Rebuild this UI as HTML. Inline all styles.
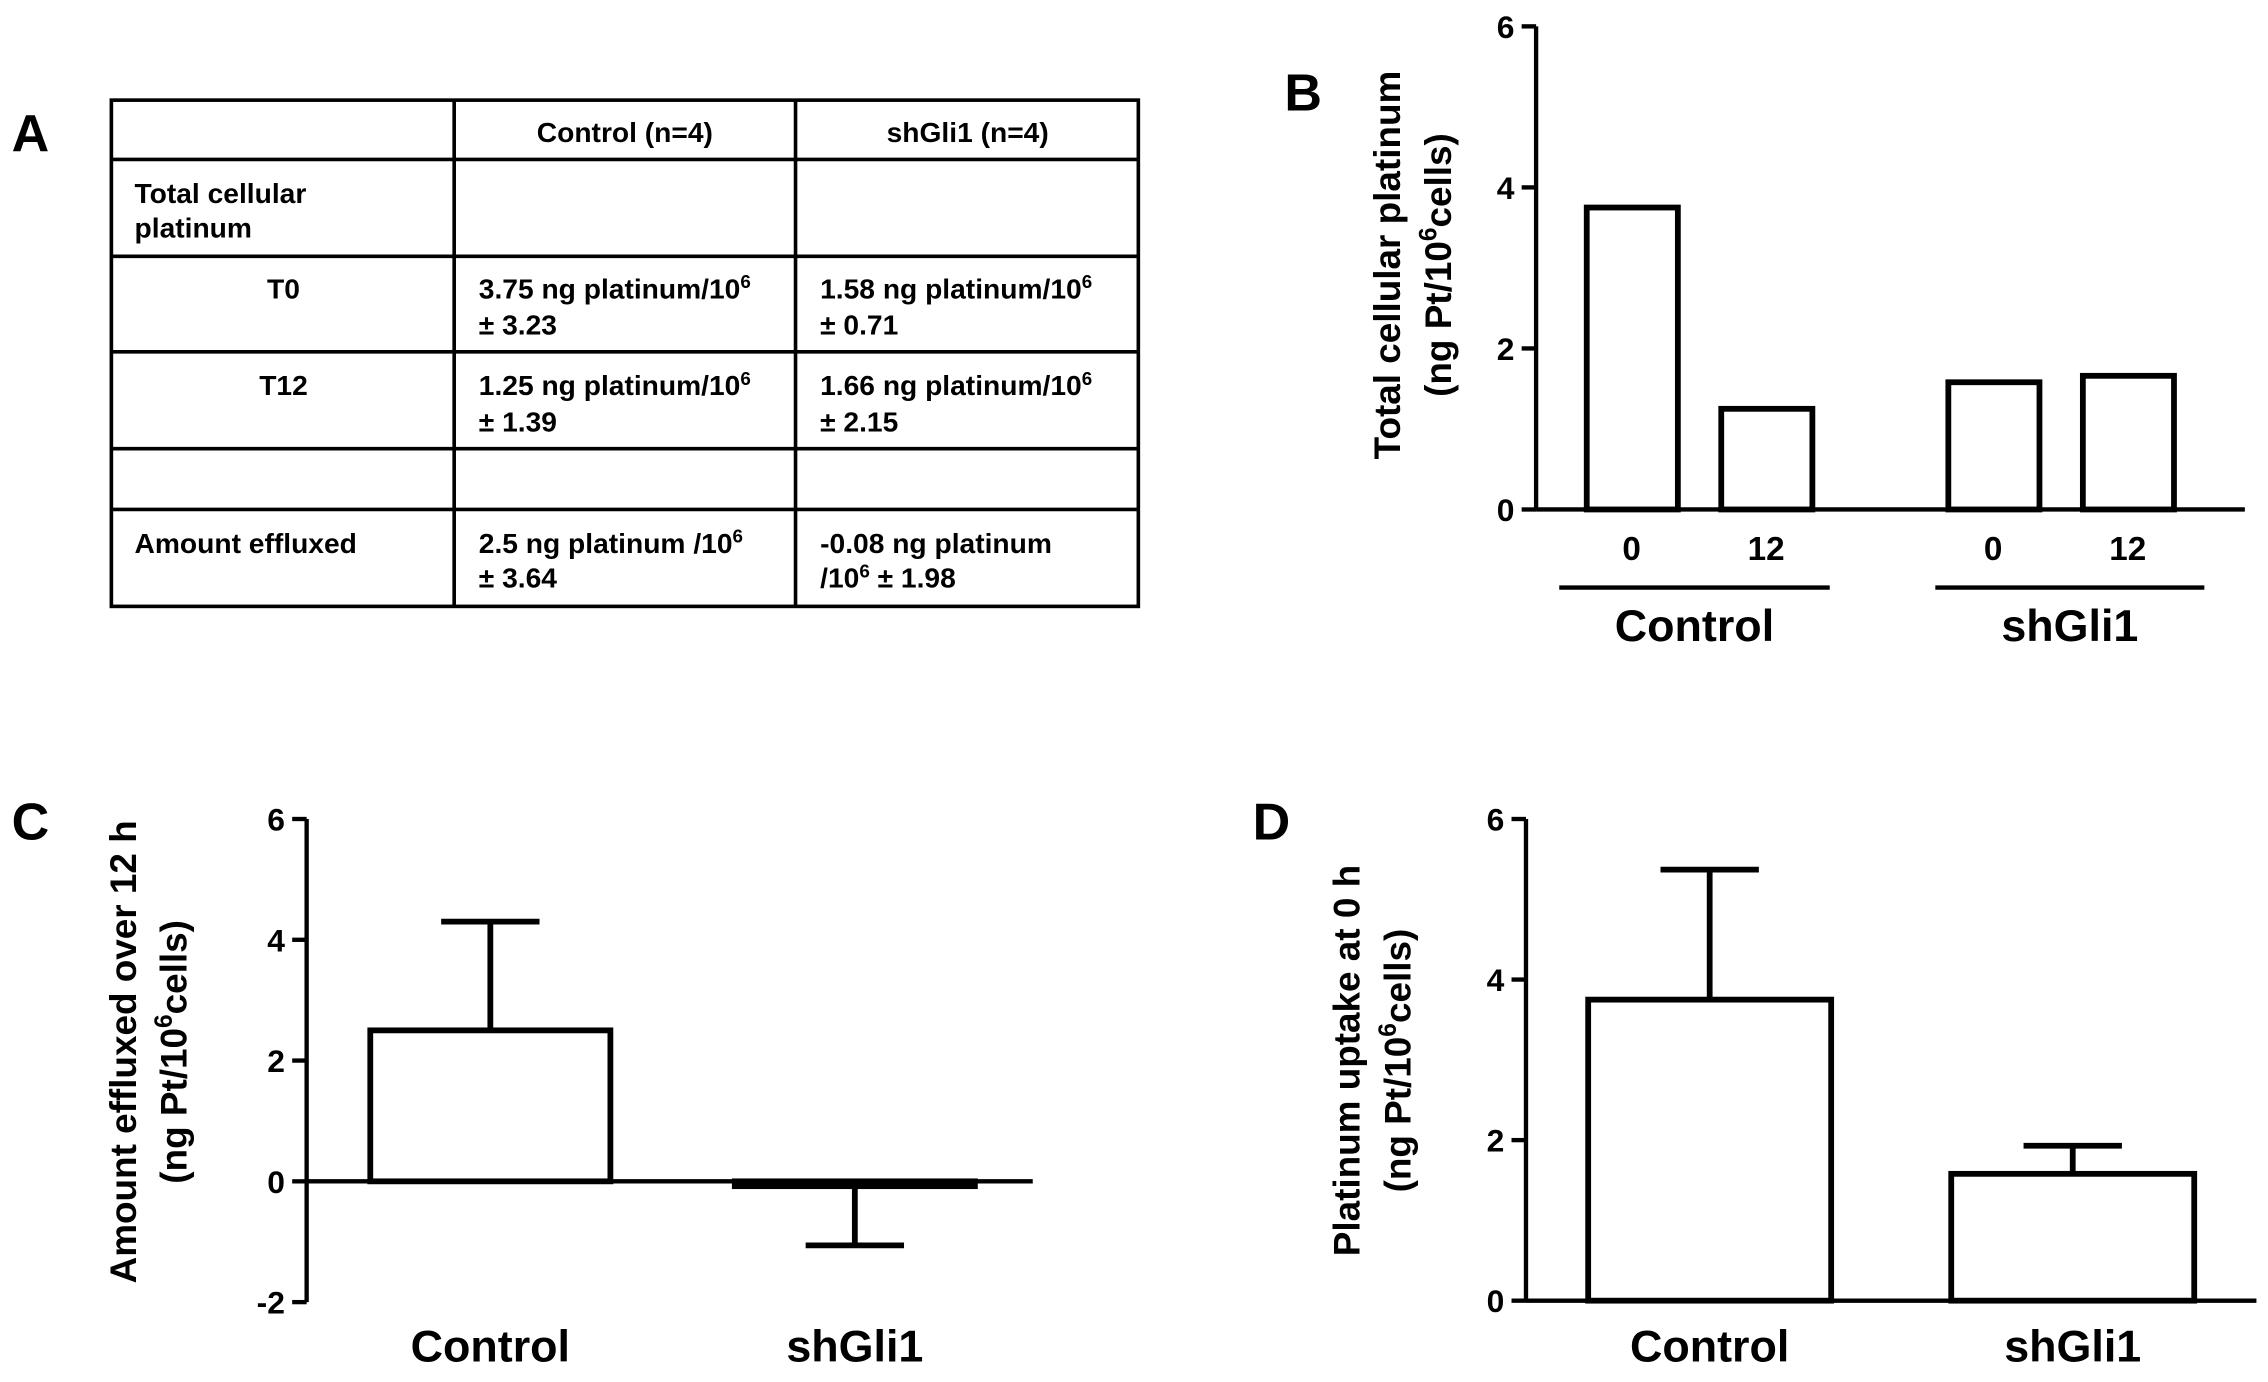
<!DOCTYPE html>
<html><head><meta charset="utf-8"><style>
html,body{margin:0;padding:0;background:#fff}
svg{display:block}
text{font-family:"Liberation Sans",Arial,sans-serif;font-weight:bold;fill:#000}
</style></head><body>
<svg id="fig" width="2268" height="1382" viewBox="0 0 1568 955" xmlns="http://www.w3.org/2000/svg">
<g stroke="#000" stroke-width="2.5" fill="none">
<rect x="77" y="69" width="710" height="350"/>
<line x1="314" y1="69" x2="314" y2="419"/><line x1="550" y1="69" x2="550" y2="419"/>
<line x1="77" y1="110" x2="787" y2="110"/><line x1="77" y1="177" x2="787" y2="177"/>
<line x1="77" y1="243" x2="787" y2="243"/><line x1="77" y1="310" x2="787" y2="310"/>
<line x1="77" y1="352" x2="787" y2="352"/>
</g>
<g font-size="19.5">
<text x="8" y="104" font-size="36">A</text>
<text x="432" y="98" text-anchor="middle">Control (n=4)</text>
<text x="669" y="98" text-anchor="middle">shGli1 (n=4)</text>
<text x="93" y="140">Total cellular</text>
<text x="93" y="164">platinum</text>
<text x="196" y="206" text-anchor="middle">T0</text>
<text x="331" y="206">3.75 ng platinum/10<tspan font-size="13" dy="-7">6</tspan></text>
<text x="331" y="231">± 3.23</text>
<text x="567" y="206">1.58 ng platinum/10<tspan font-size="13" dy="-7">6</tspan></text>
<text x="567" y="231">± 0.71</text>
<text x="196" y="273" text-anchor="middle">T12</text>
<text x="331" y="273">1.25 ng platinum/10<tspan font-size="13" dy="-7">6</tspan></text>
<text x="331" y="298">± 1.39</text>
<text x="567" y="273">1.66 ng platinum/10<tspan font-size="13" dy="-7">6</tspan></text>
<text x="567" y="298">± 2.15</text>
<text x="93" y="382">Amount effluxed</text>
<text x="331" y="382">2.5 ng platinum /10<tspan font-size="13" dy="-7">6</tspan></text>
<text x="331" y="406">± 3.64</text>
<text x="567" y="382">-0.08 ng platinum</text>
<text x="567" y="406">/10<tspan font-size="13" dy="-7">6</tspan><tspan dy="7">  ± 1.98</tspan></text>
</g>
<text x="888" y="76" font-size="36">B</text>
<text x="8" y="580" font-size="36">C</text>
<text x="866" y="580" font-size="36">D</text>
<g id="charts"></g>
</svg>
<script>
const bVals=[3.75,1.25,1.58,1.66];
const bLabels=['0','12','0','12'];
const bGroups=['Control','shGli1'];
const cCats=['Control','shGli1'];
const cVals=[2.5,-0.08];
const cErr=[1.8,0.98];
const dCats=['Control','shGli1'];
const dVals=[3.75,1.58];
const dErr=[1.62,0.35];
const ticksB=[0,2,4,6];
const ticksC=[-2,0,2,4,6];
const ticksD=[0,2,4,6];
const NS='http://www.w3.org/2000/svg';
const root=document.getElementById('charts');
function mk(t,a,p){const e=document.createElementNS(NS,t);for(const k in a)e.setAttribute(k,a[k]);(p||root).appendChild(e);return e;}
function txt(x,y,s,size,anchor,p){const e=mk('text',{x:x,y:y,'font-size':size,'text-anchor':anchor||'middle'},p);e.textContent=s;return e;}
function axis(ax,ytop,ybot,min,max,ticks,name){
  const g=mk('g',{stroke:'#000','stroke-width':3});
  
  
  const y=v=>ybot-(v-min)/(max-min)*(ybot-ytop);
  mk('line',{x1:ax,y1:ytop,x2:ax,y2:ybot},g);
  ticks.forEach(t=>{mk('line',{x1:ax-10,y1:y(t),x2:ax,y2:y(t)},g);
    const l=txt(ax-15,y(t)+8,String(t),22,'end');
    
    });
  return y;
}
function ytitle(cx,cy,l1){
  const g=mk('g',{transform:`translate(${cx},${cy}) rotate(-90)`});
  
  
  txt(0,-8,l1,25.5,'middle',g);
  const t=txt(0,27,'',25.5,'middle',g);
  t.innerHTML='(ng Pt/10<tspan font-size="17" dy="-10">6</tspan><tspan dy="10">cells)</tspan>';
}
function bar(x,w,y0,yv,name){const b=mk('rect',{x:x,y:Math.min(y0,yv),width:w,height:Math.max(Math.abs(y0-yv),1.5),fill:'#fff',stroke:'#000','stroke-width':4});
  return b;}
function err(cx,yFrom,yTo,name){const g=mk('g',{stroke:'#000','stroke-width':4});
  
  mk('line',{x1:cx,y1:yFrom,x2:cx,y2:yTo},g);mk('line',{x1:cx-34,y1:yTo,x2:cx+34,y2:yTo},g);}
// B
const yB=axis(1062,18,352,0,6,ticksB,'panel-b-y-axis');
mk('line',{x1:1062,y1:352,x2:1552,y2:352,stroke:'#000','stroke-width':3});
const bx=[1097,1190,1347,1440];
bVals.forEach((v,i)=>{bar(bx[i],63,yB(0),yB(v),'bar-b-'+i);
  const l=txt(bx[i]+31,387,bLabels[i],23);});
[[1078,1265],[1338,1524]].forEach((r,i)=>{mk('line',{x1:r[0],y1:406,x2:r[1],y2:406,stroke:'#000','stroke-width':3});
  const l=txt((r[0]+r[1])/2,443,bGroups[i],31);});
ytitle(976,183,'Total cellular platinum');
// C
const yC=axis(212,566,900,-2,6,ticksC,'panel-c-y-axis');
const cx=[256,508];
cVals.forEach((v,i)=>{const top=yC(v);err(cx[i]+83,top,yC(v+(v>=0?cErr[i]:-cErr[i])),'error-c-'+i);bar(cx[i],166,yC(0),top,'bar-c-'+i);
  const l=txt(cx[i]+83,941,cCats[i],31);});
mk('line',{x1:212,y1:yC(0),x2:714,y2:yC(0),stroke:'#000','stroke-width':3});
ytitle(102,727,'Amount effluxed over 12 h');
// D
const yD=axis(1055,566,899,0,6,ticksD,'panel-d-y-axis');
const dx=[1098,1349];
dVals.forEach((v,i)=>{err(dx[i]+84,yD(v),yD(v+dErr[i]),'error-d-'+i);bar(dx[i],168,yD(0),yD(v),'bar-d-'+i);
  const l=txt(dx[i]+84,941,dCats[i],31);});
mk('line',{x1:1055,y1:899,x2:1560,y2:899,stroke:'#000','stroke-width':3});
ytitle(948,733,'Platinum uptake at 0 h');
</script>
</body></html>
